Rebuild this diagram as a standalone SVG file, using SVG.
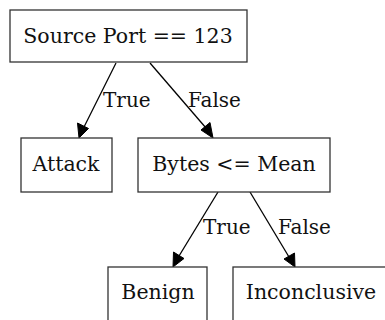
<svg xmlns="http://www.w3.org/2000/svg" width="385" height="320" viewBox="0 0 385 320">
<defs>
<style>
.box{fill:#fff;stroke:#333;stroke-width:1.3}
.t{font-family:"DejaVu Serif",serif;font-size:20.5px;fill:#111;text-anchor:middle}
.el{font-family:"DejaVu Serif",serif;font-size:20px;fill:#111}
.edge{stroke:#000;stroke-width:1.3;fill:none}
.arr{fill:#000;stroke:#000;stroke-width:1}
</style>
</defs>
<rect width="385" height="320" fill="#fff"/>
<g id="connectors">
<line class="edge" x1="116" y1="63" x2="84" y2="127"/>
<polygon class="arr" points="79,138 77.5,123 88.5,128.5"/>
<text class="el" x="103" y="107">True</text>
<line class="edge" x1="150" y1="63" x2="206" y2="128"/>
<polygon class="arr" points="213,138 201,130 210,122.5"/>
<text class="el" x="188" y="107">False</text>
<line class="edge" x1="218" y1="192" x2="179" y2="256"/>
<polygon class="arr" points="173,267 173.5,252 184,258.5"/>
<text class="el" x="203" y="234">True</text>
<line class="edge" x1="250" y1="192" x2="289" y2="257"/>
<polygon class="arr" points="295,267 284,259 294.5,253"/>
<text class="el" x="278" y="234">False</text>
</g>
<g id="root">
<rect class="box" x="10" y="10" width="237" height="52"/>
<text class="t" x="128" y="43">Source Port == 123</text>
</g>
<g id="attack">
<rect class="box" x="21" y="138" width="91" height="54"/>
<text class="t" x="66" y="171">Attack</text>
</g>
<g id="bytes">
<rect class="box" x="138" y="138" width="192" height="54"/>
<text class="t" x="234" y="171">Bytes &lt;= Mean</text>
</g>
<g id="benign">
<rect class="box" x="108" y="267" width="99" height="56"/>
<text class="t" x="158" y="299">Benign</text>
</g>
<g id="inconclusive">
<rect class="box" x="233" y="267" width="155" height="56"/>
<text class="t" x="311" y="299">Inconclusive</text>
</g>
</svg>
